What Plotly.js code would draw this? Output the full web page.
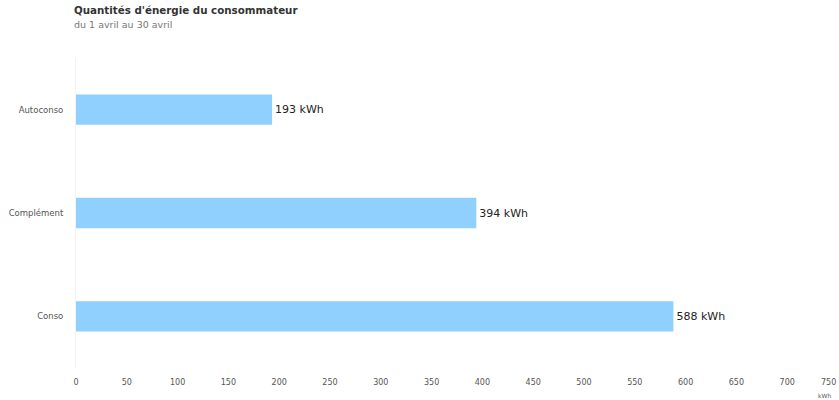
<!DOCTYPE html>
<html>
<head>
<meta charset="utf-8">
<script src="https://cdn.plot.ly/plotly-3.0.1.min.js"></script>
<style>html,body{margin:0;padding:0;background:#fff;}#chart{width:839px;height:400px;}</style>
</head>
<body>
<div id="chart"></div>
<script>
const categories = ["Autoconso", "Complément", "Conso"];
const values = [193, 394, 588];
const unit = "kWh";
const tickValues = [0, 50, 100, 150, 200, 250, 300, 350, 400, 450, 500, 550, 600, 650, 700];
const lastTick = 750;
const titleText = "Quantités d'énergie du consommateur";
const subtitleText = "du 1 avril au 30 avril";

const FONT = "DejaVu Sans, Verdana, sans-serif";

const trace = {
  type: "bar",
  orientation: "h",
  y: categories,
  x: values,
  marker: {color: "#8fd0ff", line: {width: 0}},
  text: values.map(v => v + " " + unit),
  textposition: "outside",
  textfont: {family: FONT, size: 11, color: "#222"},
  cliponaxis: false,
  hoverinfo: "none"
};

const layout = {
  width: 839,
  height: 400,
  margin: {l: 76, r: 1, t: 58, b: 32, pad: 0},
  paper_bgcolor: "#fff",
  plot_bgcolor: "#fff",
  showlegend: false,
  bargap: 0.707,
  font: {family: FONT, size: 8, color: "#666"},
  xaxis: {
    range: [0, lastTick],
    tickvals: tickValues,
    ticktext: tickValues.map(String),
    showgrid: false,
    zeroline: false,
    showline: false,
    ticks: "",
    ticklen: 0,
    ticklabelstandoff: 8,
    tickfont: {family: FONT, size: 8, color: "#555"},
    fixedrange: true
  },
  yaxis: {
    type: "category",
    autorange: "reversed",
    showgrid: false,
    zeroline: false,
    showline: true,
    linecolor: "#f2f2f2",
    linewidth: 1,
    ticks: "",
    ticklabelstandoff: 10,
    tickfont: {family: FONT, size: 8.5, color: "#555"},
    fixedrange: true
  },
  annotations: [
    {xref: "paper", yref: "paper", x: 0, y: 1, yshift: 40, xshift: -4, xanchor: "left", yanchor: "bottom",
     text: "<b>" + titleText + "</b>", showarrow: false,
     font: {family: FONT, size: 10.3, color: "#333"}},
    {xref: "paper", yref: "paper", x: 0, y: 1, yshift: 26, xshift: -4, xanchor: "left", yanchor: "bottom",
     text: subtitleText, showarrow: false,
     font: {family: FONT, size: 9.5, color: "#777"}},
    {xref: "x", yref: "paper", x: lastTick, y: 0, yshift: -8, xanchor: "right", yanchor: "top",
     text: String(lastTick), showarrow: false,
     font: {family: FONT, size: 8, color: "#555"}},
    {xref: "x", yref: "paper", x: lastTick, y: 0, yshift: -22, xshift: -5, xanchor: "right", yanchor: "top",
     text: unit, showarrow: false,
     font: {family: FONT, size: 6, color: "#555"}}
  ]
};

Plotly.newPlot("chart", [trace], layout, {displayModeBar: false, staticPlot: true});
</script>
</body>
</html>
